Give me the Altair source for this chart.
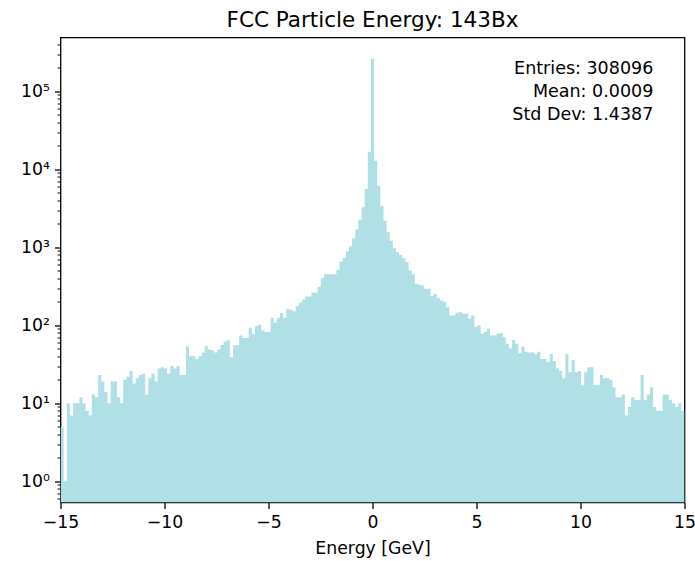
import altair as alt
import numpy as np
import pandas as pd

# Counts per bin: 199 equal-width bins spanning -15 .. 15 GeV
counts_neg = [
    5, 1, 10, 7, 10, 10, 12, 10, 8, 7, 13, 12, 23, 19, 14, 10, 19, 19, 12, 10,
    20, 22, 26, 18, 21, 23, 24, 13, 21, 24, 19, 28, 29, 28, 24, 30, 28, 30, 23, 23,
    54, 40, 40, 37, 40, 45, 54, 49, 48, 45, 49, 56, 62, 65, 39, 55, 56, 74, 69, 69,
    93, 77, 98, 102, 86, 82, 82, 125, 108, 125, 144, 125, 163, 158, 151, 176, 195, 215, 234, 234,
    261, 261, 309, 403, 453, 453, 453, 453, 514, 656, 731, 881, 1033, 1306, 1686, 2263, 3258, 5580, 16750,
]
count_peak = [262000]
counts_pos = [
    12850, 6150, 3400, 2195, 1560, 1218, 973, 864, 797, 723, 643, 503, 456, 340, 330, 324, 294, 294, 237, 253,
    223, 208, 199, 171, 134, 134, 145, 148, 141, 141, 121, 134, 95, 100, 78, 82, 91, 74, 74, 78,
    80, 71, 58, 51, 65, 58, 44, 53, 46, 45, 45, 43, 46, 37, 37, 34, 43, 35, 28, 26,
    21, 43, 25, 36, 25, 26, 17, 25, 29, 29, 17, 17, 23, 21, 21, 20, 16, 12, 12, 13,
    7, 9, 12, 11, 11, 23, 11, 13, 16, 9, 8, 8, 13, 13, 11, 10, 9, 10, 8,
]

stats_lines = ["Entries: 308096", "Mean: 0.0009", "Std Dev: 1.4387"]
x_ticks = [-15, -10, -5, 0, 5, 10, 15]
title_text = "FCC Particle Energy: 143Bx"
x_title = "Energy [GeV]"

counts = counts_neg + count_peak + counts_pos
edges = np.linspace(-15, 15, len(counts) + 1)
# step outline of the histogram: each bin's left edge, closed at the last right edge
hist = pd.DataFrame({"x": edges, "count": counts + [counts[-1]]})

# log-scale limits with 5% padding in log space
lmin = np.log10(min(c for c in counts if c > 0))
lmax = np.log10(max(counts))
span = lmax - lmin
y_lo = 10 ** (lmin - 0.05 * span)
y_hi = 10 ** (lmax + 0.05 * span)

majors = [10 ** k for k in range(0, 6)]
minors = [m * 10 ** k for k in range(-1, 6) for m in range(2, 10)]
minors = [v for v in minors if y_lo <= v <= y_hi]
sup = "⁰¹²³⁴⁵⁶⁷⁸⁹"
label_expr = "''"
for k in reversed(range(0, 6)):
    label_expr = f"datum.value == {10 ** k} ? '10{sup[k]}' : ({label_expr})"
is_major = "indexof([" + ",".join(str(v) for v in majors) + "], datum.value) >= 0"

FONT = "DejaVu Sans"
BAR = "#b0e0e6"
W, H = 624, 465

bars = alt.Chart(hist).mark_area(
    interpolate="step-after", color=BAR, opacity=1, clip=True
).encode(
    x=alt.X(
        "x:Q",
        scale=alt.Scale(domain=[-15, 15], nice=False, zero=False),
        axis=alt.Axis(
            values=x_ticks,
            title=x_title,
            labelExpr="replace(datum.label, '-', '\u2212')",
            grid=False, domain=False,
            tickSize=6, tickWidth=1.3, tickColor="black",
            labelPadding=5, labelFontSize=17.3, labelFont=FONT, labelColor="black",
            labelFlush=False, labelBound=False, labelOverlap=False,
            titleFont=FONT, titleFontSize=17.3, titleFontWeight="normal",
            titleColor="black", titlePadding=9,
        ),
    ),
    y=alt.Y(
        "count:Q",
        scale=alt.Scale(type="log", domain=[y_lo, y_hi], nice=False),
        axis=alt.Axis(
            values=majors + minors,
            title=None,
            labelExpr=label_expr,
            grid=False, domain=False,
            tickSize={"condition": {"test": is_major, "value": 6}, "value": 3.4},
            tickWidth={"condition": {"test": is_major, "value": 1.3}, "value": 1.0},
            tickColor="black",
            labelPadding=5, labelFontSize=17.3, labelFont=FONT, labelColor="black",
            labelOverlap=False, labelBound=False, labelFlush=False,
        ),
    ),
    y2=alt.datum(y_lo),
)

one = pd.DataFrame({"k": [0]})

stats = alt.Chart(one).mark_text(
    text=stats_lines, align="right", baseline="alphabetic",
    font=FONT, fontSize=17.5, lineHeight=23, color="black",
).encode(x=alt.value(W * 0.95), y=alt.value(36.5))

title = alt.Chart(one).mark_text(
    text=title_text, align="center", baseline="alphabetic",
    font=FONT, fontSize=21.5, color="black",
).encode(x=alt.value(W / 2), y=alt.value(-10.5))

chart = (
    alt.layer(bars, stats, title)
    .properties(
        width=W, height=H,
        autosize=alt.AutoSizeParams(type="none"),
        padding={"left": 60.5, "top": 37.5, "right": 10.5, "bottom": 58.5},
    )
    .configure(background="white")
    .configure_view(stroke="black", strokeWidth=1.3)
)

chart.save("out.html", embed_options={"renderer": "svg", "actions": False})
